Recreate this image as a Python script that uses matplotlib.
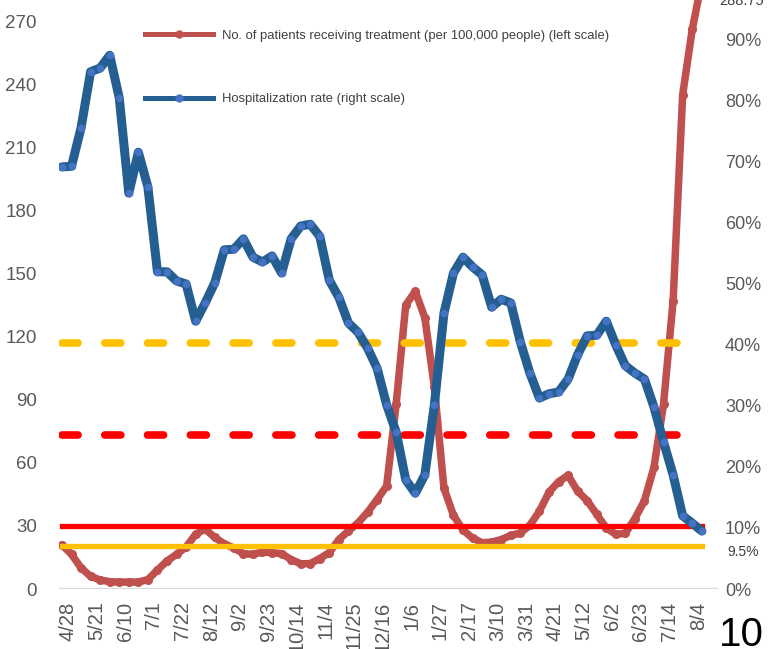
import numpy as np
import matplotlib
matplotlib.use("Agg")
import matplotlib.pyplot as plt
from matplotlib.lines import Line2D
from matplotlib.ticker import FuncFormatter
import matplotlib.transforms as mtransforms

plt.rcParams['font.family'] = ['Liberation Sans', 'DejaVu Sans']

# ---------------- data ----------------
tick_labels = ["4/28", "5/21", "6/10", "7/1", "7/22", "8/12", "9/2", "9/23", "10/14",
               "11/4", "11/25", "12/16", "1/6", "1/27", "2/17", "3/10", "3/31", "4/21",
               "5/12", "6/2", "6/23", "7/14", "8/4"]

patients = [21, 16.5, 10, 6, 4.3, 3.5, 3.3, 3.3, 3.3, 4.5,
            9, 13.3, 16.5, 20, 26, 28.5, 24.5, 21.5, 19.5, 16.8,
            16.5, 17.6, 17.3, 16.8, 14, 12, 12.1, 14.5, 17.3, 23.5,
            27.6, 31.4, 36.5, 42.5, 49, 88, 135, 141.5, 129, 96,
            48, 35, 28, 24.2, 22, 22.3, 23.5, 25.5, 26.6, 30.3,
            37, 46, 51, 54, 46.5, 42, 35.5, 29, 26, 26.5,
            33.5, 42, 58, 88, 137, 235, 266, 288.75]

hosp_rate = [69.2, 69.3, 75.6, 84.8, 85.4, 87.5, 80.5, 64.9, 71.6, 65.9,
             52.0, 52.0, 50.5, 50.0, 43.9, 46.9, 50.2, 55.6, 55.7, 57.4,
             54.4, 53.6, 54.6, 51.8, 57.4, 59.5, 59.8, 57.8, 50.6, 47.8,
             43.6, 42.1, 39.5, 36.2, 30.2, 25.7, 17.9, 15.7, 18.7, 30.2,
             45.2, 51.8, 54.4, 52.8, 51.5, 46.2, 47.5, 46.9, 40.5, 35.4,
             31.3, 32.0, 32.3, 34.4, 38.4, 41.5, 41.6, 43.9, 40.0, 36.6,
             35.4, 34.4, 29.8, 24.1, 18.7, 12.0, 10.8, 9.5]

# reference levels (left scale)
dashed_levels = [117, 73]
dashed_colors = ["#FFC000", "#FF0000"]
solid_levels = [30, 20.5]
solid_colors = ["#FF0000", "#FFC000"]

legend_labels = ["No. of patients receiving treatment (per 100,000 people) (left scale)",
                 "Hospitalization rate (right scale)"]

# ---------------- figure ----------------
W, H = 769, 649
fig = plt.figure(figsize=(W / 100, H / 100), dpi=100)
ax = fig.add_axes([59 / W, (H - 589) / H, 659 / W, 610 / H])
x = np.arange(len(patients))

ax.set_xlim(-0.31, 68.7)
ax.set_ylim(0, 290)
for s in ax.spines.values():
    s.set_visible(False)
ax.axhline(0, color="#D9D9D9", lw=1.6, zorder=1)

RED = "#C0504D"
BLUE = "#255E91"
BLUE_M = "#4472C4"

ax.plot(x, patients, color=RED, lw=5.4, marker="o", ms=5.5, mfc=RED, mec=RED,
        solid_joinstyle="round", solid_capstyle="round", zorder=2)

for lev, c in zip(dashed_levels, dashed_colors):
    ax.plot([x[0], x[-1]], [lev, lev], color=c, lw=5.5, linestyle=(0, (2.1, 3.5)),
            dash_capstyle="round", zorder=3)
for lev, c in zip(solid_levels, solid_colors):
    ax.plot([x[0], x[-1]], [lev, lev], color=c, lw=3.8, zorder=3)

ax.set_yticks(np.arange(0, 271, 30))
ax.tick_params(axis="y", length=0, pad=16, labelsize=13.5, labelcolor="#595959")
ax.set_xticks(x[::3])
ax.set_xticklabels(tick_labels, rotation=90, va="top", ha="center")
ax.tick_params(axis="x", length=0, pad=9, labelsize=14.5, labelcolor="#595959")
off = mtransforms.ScaledTranslation(6 / 100, 0, fig.dpi_scale_trans)
for lab in ax.get_xticklabels():
    lab.set_transform(lab.get_transform() + off)

ax2 = ax.twinx()
ax2.set_ylim(0, 100)
for s in ax2.spines.values():
    s.set_visible(False)
ax2.plot(x, hosp_rate, color=BLUE, lw=6.5, marker="o", ms=4.5, mfc=BLUE_M, mec=BLUE_M,
         solid_joinstyle="round", solid_capstyle="round", zorder=4)
ax2.set_yticks(np.arange(0, 91, 10))
ax2.yaxis.set_major_formatter(FuncFormatter(lambda v, p: f"{v:.0f}%"))
ax2.tick_params(axis="y", length=0, pad=5, labelsize=13, labelcolor="#595959")

# data label for last patients value
ax.annotate(f"{patients[-1]:g}", xy=(x[-1], patients[-1]), xytext=(40, -19),
            textcoords="offset pixels", ha="center", va="center", fontsize=10.5,
            color="#404040", annotation_clip=False)
# 9.5% label
ax2.text(1.0137, 6.1, "9.5%", transform=mtransforms.blended_transform_factory(ax2.transAxes, ax2.transData),
         ha="left", va="center", fontsize=10, color="#404040")

# legend
handles = [Line2D([0], [0], color=RED, lw=3.6, marker="o", ms=5, mfc=RED, mec=RED),
           Line2D([0], [0], color=BLUE, lw=3.6, marker="o", ms=5, mfc=BLUE_M, mec=BLUE_M)]
fs = 9.4
fs_px = fs * 100 / 72
leg = ax2.legend(handles, legend_labels, loc="upper left",
                 bbox_to_anchor=(145 / W, 1 - 29.5 / H), bbox_transform=fig.transFigure,
                 frameon=False, borderpad=0, borderaxespad=0, fontsize=fs,
                 handlelength=68 / fs_px, handletextpad=9 / fs_px, labelspacing=3.95,
                 numpoints=1)
for t in leg.get_texts():
    t.set_color("#404040")

# page number
fig.text(741 / W, 3 / H, "10", ha="center", va="baseline", fontsize=29, color="black")

fig.savefig("out.png", dpi=100)
